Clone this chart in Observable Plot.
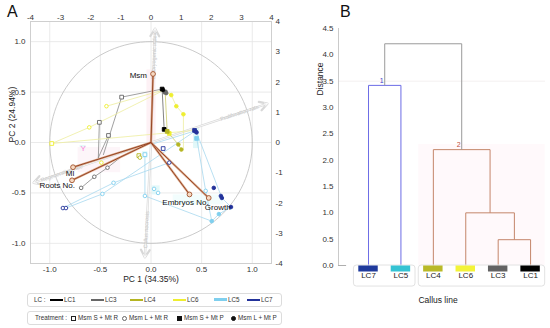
<!DOCTYPE html>
<html><head><meta charset="utf-8">
<script src="https://cdn.jsdelivr.net/npm/d3@7"></script>
<script src="https://cdn.jsdelivr.net/npm/@observablehq/plot@0.6"></script>
<style>
body{margin:0;background:#fff;}
#root{position:relative;width:550px;height:328px;overflow:hidden;font-family:"Liberation Sans",Arial,sans-serif;color:#222;background:#fff;}
.pl{position:absolute;}
.panel{position:absolute;font-size:16px;color:#111;}
.lg{position:absolute;left:27px;width:253px;height:12px;border:1px solid #dcdcdc;border-radius:3px;font-size:6.3px;color:#333;}
.it{position:absolute;top:0;line-height:12px;white-space:nowrap;}
.sw{position:absolute;top:5px;width:13px;height:2px;}
.sym{position:absolute;top:4px;width:3px;height:3px;}
</style></head><body>
<div id="root">
 <div class="panel" style="left:7px;top:3px">A</div>
 <div class="panel" style="left:340px;top:3px">B</div>
 <div id="pa" class="pl" style="left:0;top:0"></div>
 <div id="pb" class="pl" style="left:290px;top:0"></div>
 <div id="lg1" class="lg" style="top:293px"></div>
 <div id="lg2" class="lg" style="top:311px"></div>
</div>
<script>
// ---------- Panel A data ----------
const lcNames  = ["LC1","LC3","LC4","LC6","LC5","LC7"];
const lcColors = ["#000000","#676767","#b5b522","#eeee30","#7fcfee","#23329a"];
const lcLineColors = ["#666666","#8a8a8a","#cdcd70","#eeeea0","#a8d9ef","#9cc0e6"];
const treatNames = ["Msm S + Mt R","Msm L + Mt R","Msm S + Mt P","Msm L + Mt P"];

const ptLC = ["LC1","LC1","LC1",
  "LC3","LC3","LC3","LC3","LC3","LC3","LC3","LC3",
  "LC6","LC6","LC6","LC6","LC6","LC6","LC6","LC6",
  "LC4","LC4","LC4","LC4","LC4",
  "LC5","LC5","LC5","LC5","LC5","LC5","LC5","LC5","LC5","LC5",
  "LC7","LC7","LC7","LC7","LC7","LC7","LC7","LC7","LC7","LC7","LC7"];
const ptTreat = [2,3,2,
  2,3,0,0,0,1,1,1,
  0,1,1,3,3,3,2,1,
  2,3,3,1,0,
  2,0,1,1,1,1,3,3,1,1,
  2,3,3,0,1,3,3,3,3,1,1];
const ptPC1 = [0.11,0.12,0.13,
  0.14,0.15,-0.29,-0.51,-0.42,-0.43,-0.56,-0.69,
  -0.98,-0.44,-0.61,0.20,0.25,0.32,0.18,-0.49,
  0.16,0.27,0.30,-0.11,-0.12,
  0.45,-0.06,-0.06,0.03,0.07,0.54,0.67,0.60,-0.37,-0.48,
  0.43,0.44,0.45,0.12,0.18,0.62,0.69,0.70,0.79,-0.87,-0.84];
const ptPC2 = [0.53,0.52,0.13,
  0.50,0.49,0.45,0.20,0.07,-0.25,-0.34,-0.45,
  -0.01,0.36,0.15,0.47,0.36,0.28,0.09,-0.20,
  0.11,-0.02,-0.07,-0.15,-0.13,
  0.04,-0.12,-0.53,-0.46,-0.50,-0.48,-0.71,-0.78,-0.40,-0.51,
  0.12,0.11,0.10,-0.06,-0.20,-0.45,-0.53,-0.55,-0.64,-0.65,-0.65];

// connecting lines: group id per vertex, group -> LC
const lnGroup = [1,1,1, 2,2, 3,3, 4,4,4,4, 5,5, 6,6,6, 7,7, 8,8, 9,9,9,9,9, 10,10,10,10,
  11,11,11, 12,12,12, 13,13,13,13,13, 14,14,14, 15,15,15, 16,16];
const lnGroupLC = ["LC3","LC3","LC3","LC3","LC1","LC6","LC6","LC6","LC6","LC4","LC5","LC5","LC5","LC5","LC5","LC5"];
const lnPC1 = [0.11,-0.29,-0.47, -0.51,-0.52, -0.42,-0.52, -0.69,-0.56,-0.43,-0.28, 0.11,0.13,
  -0.98,-0.61,0.11, -0.98,0.43, -0.44,0.12, 0.12,0.20,0.25,0.32,0.32, 0.14,0.16,0.27,0.30,
  -0.84,-0.48,0.43, -0.87,-0.37,0.18, -0.06,-0.06,0.60,0.67,0.79, 0.45,0.54,0.60, 0.45,0.70,0.79, 0.00,0.45];
const lnPC2 = [0.53,0.45,-0.12, 0.20,-0.15, 0.07,-0.15, -0.45,-0.34,-0.25,-0.13, 0.53,0.13,
  -0.01,0.15,0.51, -0.01,0.12, 0.36,0.52, 0.52,0.47,0.36,0.28,-0.06, 0.50,0.11,-0.02,-0.07,
  -0.65,-0.51,0.11, -0.65,-0.40,-0.20, -0.12,-0.53,-0.78,-0.71,-0.64, 0.05,-0.48,-0.78, 0.10,-0.55,-0.64, -0.02,0.12];

// active variables (loadings)
const varNames = ["Msm","Ml","Roots No.","Embryos No.","Growth"];
const varPC1 = [0.02,-0.77,-0.78,0.38,0.57];
const varPC2 = [0.68,-0.245,-0.375,-0.515,-0.55];

// supplementary variables
const suppNames = ["Embryogenic index","Proliferation rate","Regeneration rate","Callus necrosis"];
const suppPC1 = [0.04,1.15,-1.16,-0.06];
const suppPC2 = [1.13,0.385,-0.40,-1.14];

// label background shading
const shadeX1 = [-0.04,0.42,-0.085,0.01,-0.70,-0.72,0.22];
const shadeX2 = [0.05,0.48,-0.03,0.09,-0.64,-0.30,0.72];
const shadeY1 = [0.0,-0.06,-0.16,-0.52,-0.09,-0.30,-0.62];
const shadeY2 = [0.72,0.14,-0.09,-0.43,-0.03,-0.05,-0.52];
const shadeFill = ["#fdedf3","#d9f6f8","#ddf7f9","#ddf7f9","#ddf7f9","#fdf3f7","#effcfc"];

const pc1Ticks = [-1,-0.5,0,0.5,1];
const pc2Ticks = [-1,-0.5,0,0.5,1];
const topTicks = [-4,-3,-2,-1,0,1,2,3,4];
const rightTicks = [-4,-3,-2,-1,0,1,2,3,4];
const xMax = 1.19, yMax = 1.2;

// ---------- Panel B data ----------
const leaves = ["LC7","LC5","LC4","LC6","LC3","LC1"];
const leafColors = ["#1f3a9c","#35c3d3","#b9b928","#f3f338","#636363","#000000"];
const mergeLeft  = ["LC3","LC6","LC4","LC7","C1"];
const mergeRight = ["LC1","N1","N2","LC5","C2"];
const mergeName  = ["N1","N2","C2","C1","Root"];
const mergeHeight = [0.49,1.0,2.2,3.42,4.21];
const mergeCluster = ["2","2","2","1","root"];
const distTicks = [0,0.5,1,1.5,2,2.5,3,3.5,4,4.5];

// ---------- build ----------
const FONT = "Liberation Sans, Arial, sans-serif";
const hy = v => (v<0?"-":"") + Math.abs(v).toFixed(1);
const hi = v => (v<0?"-":"") + Math.abs(v);
const colorOf = lc => lcColors[lcNames.indexOf(lc)];

const points = ptPC1.map((x,i)=>({x, y:ptPC2[i], lc:ptLC[i], t:ptTreat[i]}));
const lines = lnPC1.map((x,i)=>({x, y:lnPC2[i], g:lnGroup[i], lc:lnGroupLC[lnGroup[i]-1]}));
const vars = varNames.map((n,i)=>({n, x:varPC1[i], y:varPC2[i]}));
const supp = suppNames.map((n,i)=>({n, x:suppPC1[i], y:suppPC2[i],
  a: -Math.atan(suppPC2[i]/suppPC1[i])*180/Math.PI}));
const shades = shadeX1.map((v,i)=>({x1:v,x2:shadeX2[i],y1:shadeY1[i],y2:shadeY2[i],f:shadeFill[i]}));
const circle = d3.range(0,361,3).map(a=>({x:Math.cos(a*Math.PI/180), y:Math.sin(a*Math.PI/180)}));

const labelStyle = {
  "Msm": {textAnchor:"end", dx:-6, dy:2},
  "Ml": {textAnchor:"middle", dx:-3, dy:6},
  "Roots No.": {textAnchor:"end", dx:3, dy:5},
  "Embryos No.": {textAnchor:"middle", dx:-4, dy:8},
  "Growth": {textAnchor:"middle", dx:9, dy:9}
};

const A = Plot.plot({
  width:290, height:290, marginTop:21, marginLeft:30, marginRight:19, marginBottom:27,
  x:{domain:[-xMax,xMax], axis:null}, y:{domain:[-yMax,yMax], axis:null},
  color:{type:"identity"},
  style:{fontFamily:FONT, fontSize:"8px", background:"transparent", overflow:"visible"},
  marks:[
    Plot.ruleX(pc1Ticks, {x:d=>d, stroke:"#e4e4e4", strokeWidth:0.8}),
    Plot.ruleY(pc2Ticks, {y:d=>d, stroke:"#e4e4e4", strokeWidth:0.8}),
    Plot.frame({stroke:"#cfcfcf"}),
    Plot.rect(shades, {x1:"x1", x2:"x2", y1:"y1", y2:"y2", fill:"f", fillOpacity:0.8}),
    Plot.line(circle, {x:"x", y:"y", stroke:"#bdbdbd", strokeWidth:0.8}),
    Plot.arrow(supp, {x1:()=>0, y1:()=>0, x2:"x", y2:"y", stroke:"#d8d8d8", strokeWidth:2.2, headLength:6}),
    Plot.arrow(supp, {x1:()=>0, y1:()=>0, x2:"x", y2:"y", stroke:"#ffffff", strokeWidth:0.8, headLength:6}),
    Plot.text(supp, {x:d=>d.x*0.76, y:d=>d.y*0.76, text:"n", rotate:"a", fill:"#c8c8c8", fontSize:5.5}),
    Plot.line(lines, {x:"x", y:"y", z:"g", stroke:d=>lcLineColors[lcNames.indexOf(d.lc)], strokeWidth:0.9, strokeOpacity:0.9}),
    Plot.link(vars, {x1:()=>0, y1:()=>0, x2:"x", y2:"y", stroke:"#dba98a", strokeWidth:2.2}),
    Plot.link(vars, {x1:()=>0, y1:()=>0, x2:"x", y2:"y", stroke:"#8f3a1b", strokeWidth:0.9}),
    Plot.dot(points.filter(d=>d.t%2===0), {x:"x", y:"y", symbol:"square", r:2.1,
      stroke:d=>colorOf(d.lc), fill:d=>d.t<2?"#ffffff":colorOf(d.lc), strokeWidth:0.9}),
    Plot.dot(points.filter(d=>d.t%2===1), {x:"x", y:"y", symbol:"circle", r:1.8,
      stroke:d=>colorOf(d.lc), fill:d=>d.t<2?"#ffffff":colorOf(d.lc), strokeWidth:0.9}),
    Plot.dot(vars, {x:"x", y:"y", r:2.4, stroke:"#a0522d", fill:"#f6d9c3", strokeWidth:0.9}),
    ...vars.map(v=>Plot.text([v], {x:"x", y:"y", text:"n", fill:"#111", fontSize:8, ...labelStyle[v.n]})),
    Plot.text(["Y"], {x:()=>-0.67, y:()=>-0.06, text:d=>d, fill:"#ff7fd8", fontSize:8}),
    Plot.text(pc1Ticks, {x:d=>d, frameAnchor:"bottom", dy:8, text:hy, fill:"#333"}),
    Plot.text(pc2Ticks, {y:d=>d, frameAnchor:"left", dx:-5, textAnchor:"end", text:hy, fill:"#333"}),
    Plot.text(topTicks, {x:d=>d*xMax/4, frameAnchor:"top", dy:-7, text:hi, fill:"#333"}),
    Plot.text(rightTicks, {y:d=>d*yMax/4, frameAnchor:"right", dx:4, textAnchor:"start", text:hi, fill:"#333"}),
    Plot.text(["PC 1 (34.35%)"], {frameAnchor:"bottom", dy:18, text:d=>d, fill:"#222", fontSize:8.5}),
    Plot.text(["PC 2 (24.94%)"], {frameAnchor:"left", dx:-18, rotate:-90, text:d=>d, fill:"#222", fontSize:8.5})
  ]
});
document.getElementById("pa").appendChild(A);

// dendrogram geometry
const clusterColor = {"1":"#6c6ce6","2":"#c4866a","root":"#9a9a9a"};
const pos = {};
leaves.forEach((l,i)=>pos[l]={x:i,h:0});
const segs = [];
mergeName.forEach((n,k)=>{
  const a=pos[mergeLeft[k]], b=pos[mergeRight[k]], h=mergeHeight[k], c=clusterColor[mergeCluster[k]];
  segs.push({x1:a.x,y1:a.h,x2:a.x,y2:h,c},{x1:b.x,y1:b.h,x2:b.x,y2:h,c},{x1:a.x,y1:h,x2:b.x,y2:h,c});
  pos[n]={x:(a.x+b.x)/2,h};
});
const clusterLabels = [{t:"1",x:pos["C1"].x,y:pos["C1"].h,c:"#3c3cc8"},{t:"2",x:pos["C2"].x,y:pos["C2"].h,c:"#c04a3a"}];
const leafData = leaves.map((l,i)=>({l,i,c:leafColors[i]}));
const groups = [[0,1],[2,5]].map(([a,b])=>({x1:a-0.45,x2:b+0.45}));
const xDomB = [-0.926,5.46];

const B = Plot.plot({
  width:260, height:328, marginTop:28, marginLeft:48, marginRight:5, marginBottom:63,
  x:{domain:xDomB, axis:null}, y:{domain:[0,4.5], axis:null},
  color:{type:"identity"},
  style:{fontFamily:FONT, fontSize:"8px", background:"transparent", overflow:"visible"},
  marks:[
    Plot.rect([groups[1]], {x1:"x1", x2:"x2", y1:()=>0, y2:()=>2.3, fill:"#fff9fb"}),
    Plot.ruleY([3.5], {y:d=>d, stroke:"#f1ecec", strokeWidth:0.8}),
    Plot.ruleX([xDomB[0]], {x:d=>d, y1:()=>0, y2:()=>4.5, stroke:"#bdbdbd", strokeWidth:0.8}),
    Plot.ruleY([0], {y:d=>d, x1:()=>xDomB[0], x2:()=>xDomB[0]+0.25, stroke:"#999", strokeWidth:0.8}),
    Plot.link(segs, {x1:"x1", y1:"y1", x2:"x2", y2:"y2", stroke:"c", strokeWidth:1}),
    Plot.text(clusterLabels, {x:"x", y:"y", text:"t", fill:"c", dy:-5, dx:-3, fontSize:7}),
    Plot.rect(groups, {x1:"x1", x2:"x2", y1:()=>0, y2:()=>-0.4, stroke:"#e2e2e2", fill:"none", rx:3}),
    Plot.ruleY(leafData, {y:()=>0, x1:d=>d.i-0.3, x2:d=>d.i+0.3, stroke:"c", strokeWidth:6, dy:3}),
    Plot.text(leafData, {x:"i", frameAnchor:"bottom", dy:12, text:"l", fill:"#222", fontSize:8}),
    Plot.text(distTicks, {y:d=>d, frameAnchor:"left", dx:-5, textAnchor:"end", text:d=>d.toFixed(1), fill:"#333"}),
    Plot.text(["Distance"], {frameAnchor:"top-left", dx:-22, dy:67, rotate:-90, text:d=>d, fill:"#222", fontSize:8.5}),
    Plot.text(["Callus line"], {frameAnchor:"bottom", dy:37, dx:-4, text:d=>d, fill:"#222", fontSize:8.5})
  ]
});
document.getElementById("pb").appendChild(B);

// ---------- legends ----------
const lg1 = document.getElementById("lg1");
const lcLegendX = [22,63,102,145,186,219];
lg1.innerHTML = `<span class="it" style="left:6px">LC :</span>` +
  lcNames.map((n,i)=>`<span class="sw" style="left:${lcLegendX[i]}px;background:${lcColors[i]};${n==="LC5"?"height:3px;top:4px;":""}"></span><span class="it" style="left:${lcLegendX[i]+14}px">${n}</span>`).join("");
const lg2 = document.getElementById("lg2");
const trX = [43,94,149,203];
const symCss = ["border:1px solid #222;background:#fff;",
  "border:1px solid #666;border-radius:50%;background:#fff;",
  "border:1px solid #111;background:#111;",
  "border:1px solid #111;border-radius:50%;background:#111;"];
lg2.innerHTML = `<span class="it" style="left:7px">Treatment :</span>` +
  treatNames.map((n,i)=>`<span class="sym" style="left:${trX[i]}px;${symCss[i]}"></span><span class="it" style="left:${trX[i]+7}px">${n}</span>`).join("");
</script>
</body></html>
